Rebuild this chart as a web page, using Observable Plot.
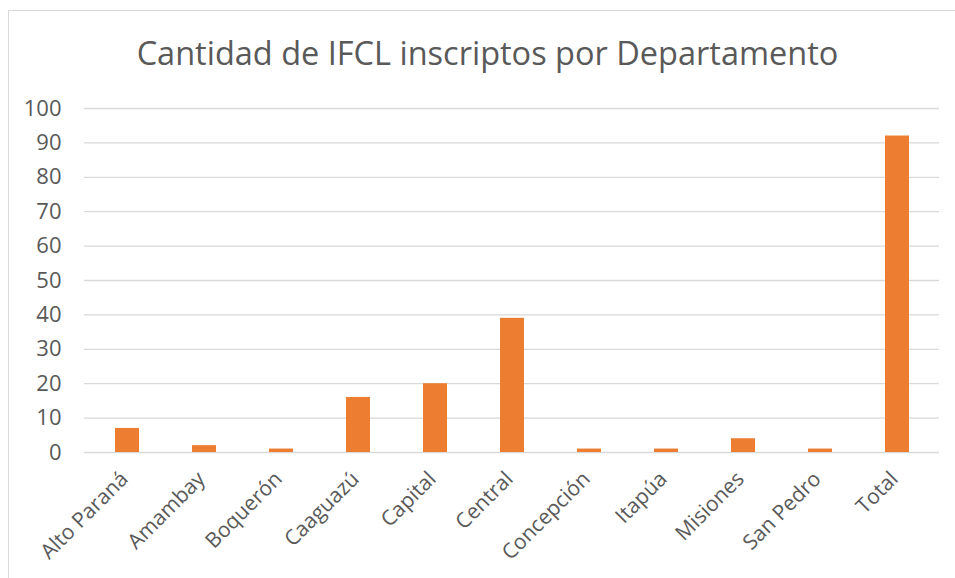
<!DOCTYPE html>
<html><head><meta charset="utf-8">
<script src="https://cdn.jsdelivr.net/npm/d3@7"></script>
<script src="https://cdn.jsdelivr.net/npm/@observablehq/plot@0.6"></script>
<style>
html,body{margin:0;padding:0;background:#fff;overflow:hidden;}
#wrap{position:relative;width:955px;height:578px;}
#border{position:absolute;left:8px;top:10px;width:960px;height:600px;border:1px solid #d9d9d9;box-sizing:border-box;}
#title{position:absolute;left:0;top:30px;width:975px;text-align:center;font-family:"Open Sans",sans-serif;font-size:32.5px;color:#595959;white-space:nowrap;}
#chart{position:absolute;left:0;top:0;}
</style></head>
<body>
<div id="wrap"><div id="border"></div><div id="title">Cantidad de IFCL inscriptos por Departamento</div><div id="chart"></div></div>
<script>
const departamentos = ["Alto Paraná","Amambay","Boquerón","Caaguazú","Capital","Central","Concepción","Itapúa","Misiones","San Pedro","Total"];
const cantidades = [7,2,1,16,20,39,1,1,4,1,92];
const yTicks = [0,10,20,30,40,50,60,70,80,90,100];
const data = departamentos.map((d,i)=>({dep:d, n:cantidades[i]}));
const chart = Plot.plot({
  width:955, height:578,
  marginTop:108, marginBottom:126, marginLeft:84, marginRight:16,
  style:{fontFamily:"'Open Sans', sans-serif", fontSize:"22px", color:"#595959", background:"transparent"},
  x:{domain:departamentos, paddingInner:0.69, paddingOuter:0.345, label:null},
  y:{domain:[0,100], label:null},
  marks:[
    Plot.gridY(yTicks,{stroke:"#d9d9d9", strokeOpacity:1, strokeWidth:1.3}),
    Plot.axisY(yTicks,{tickSize:0, tickPadding:23, label:null, fontSize:22, fill:"#595959"}),
    Plot.axisX({tickSize:0, tickPadding:23, tickRotate:-45, label:null, fontSize:21, fill:"#595959", dx:-3}),
    Plot.barY(data,{x:"dep", y:"n", fill:"#ed7d31"})
  ]
});
document.getElementById("chart").appendChild(chart);
</script>
</body></html>
